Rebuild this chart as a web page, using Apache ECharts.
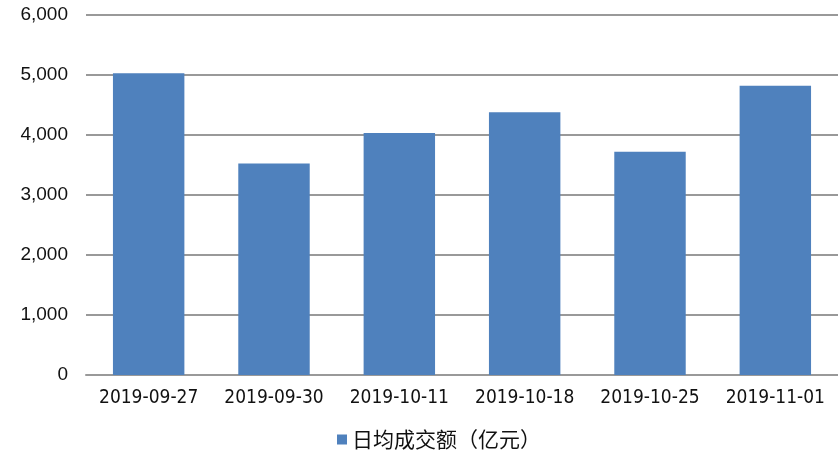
<!DOCTYPE html>
<html>
<head>
<meta charset="utf-8">
<script src="https://cdn.jsdelivr.net/npm/echarts@6/dist/echarts.min.js"></script>
<style>
  html, body { margin: 0; padding: 0; background: #fff; }
  #chart { width: 838px; height: 458px; }
</style>
</head>
<body>
<div id="chart"></div>
<script>
const dates = ['2019-09-27', '2019-09-30', '2019-10-11', '2019-10-18', '2019-10-25', '2019-11-01'];
const dailyTurnover = [5030, 3525, 4035, 4380, 3720, 4820];
const seriesName = '日均成交额（亿元）';

const myChart = echarts.init(document.getElementById('chart'), null, { renderer: 'canvas' });

myChart.setOption({
    backgroundColor: '#fff',
    animation: false,
    grid: { left: 86, top: 15, width: 759, height: 360, containLabel: false },
    legend: {
        data: [seriesName],
        bottom: 3,
        left: 332,
        icon: 'rect',
        itemWidth: 10,
        itemHeight: 10,
        itemGap: 7,
        textStyle: { fontFamily: '"Noto Sans CJK SC"', fontSize: 21, color: '#111' }
    },
    xAxis: {
        type: 'category',
        data: dates,
        axisLine: { lineStyle: { color: '#999', width: 2 } },
        axisTick: { show: false },
        axisLabel: {
            interval: 0,
            fontFamily: '"DejaVu Sans Condensed", "Liberation Sans"',
            fontSize: 19,
            color: '#111',
            margin: 14
        }
    },
    yAxis: {
        type: 'value',
        min: 0,
        max: 6000,
        interval: 1000,
        axisLine: { show: false },
        axisTick: { show: false },
        splitLine: { lineStyle: { color: '#999', width: 2 } },
        axisLabel: {
            fontFamily: '"Liberation Sans"',
            fontSize: 19,
            color: '#111',
            margin: 18,
            formatter: function (v) { return v.toLocaleString('en-US'); }
        }
    },
    series: [{
        name: seriesName,
        type: 'bar',
        data: dailyTurnover,
        barWidth: '57%',
        itemStyle: { color: '#4F81BD' }
    }]
});
</script>
</body>
</html>
